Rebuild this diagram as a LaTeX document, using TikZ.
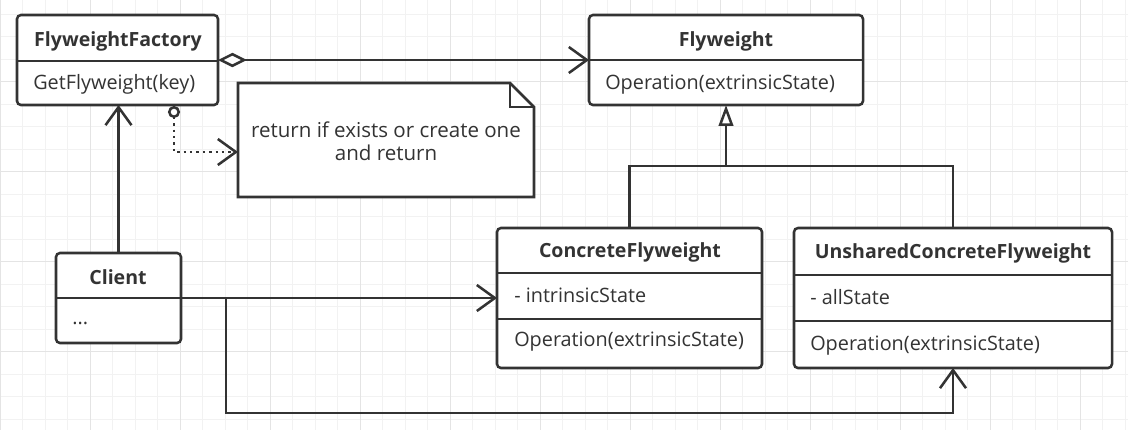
\documentclass[tikz,border=0pt]{standalone}
\usepackage{fontspec}
\setmainfont{Open Sans}
\usetikzlibrary{arrows.meta}
\definecolor{inkgray}{HTML}{333333}
\definecolor{gridminor}{HTML}{F2F2F2}
\definecolor{gridmajor}{HTML}{E4E4E4}
\newcommand{\pxlen}{0.025cm}

\begin{document}
\begin{tikzpicture}[
  x=0.025cm, y=-0.025cm,
  font=\fontsize{14.1pt}{16.3pt}\selectfont,
  every node/.style={text=inkgray},
  classbox/.style={draw=inkgray,line width=1.8pt,rounded corners=0.1cm,fill=white,
    inner sep=0pt,outer sep=0pt,anchor=north west},
  classname/.style={font=\fontsize{13.9pt}{16.3pt}\selectfont\bfseries,inner sep=0pt},
  member/.style={anchor=west,inner sep=0pt,text height=0.8em,text depth=0.25em},
  sepline/.style={draw=inkgray,line width=1.8pt},
  conn/.style={draw=inkgray,line width=1.8pt},
  openhead/.style={-{Straight Barb[length=0.45cm,width=0.65cm]}},
  minorline/.style={draw=gridminor,line width=0.7pt},
  majorline/.style={draw=gridmajor,line width=0.7pt}
]

\useasboundingbox[fill=white] (0,0) rectangle (1128,430);

% background grid
\foreach \gx in {0,22.5,...,1128} \draw[minorline] (\gx,0) -- (\gx,430);
\foreach \gy in {14.2,36.7,...,430} \draw[minorline] (0,\gy) -- (1128,\gy);
\foreach \gx in {0,90,...,1128} \draw[majorline] (\gx,0) -- (\gx,430);
\foreach \gy in {81.7,171.7,...,430} \draw[majorline] (0,\gy) -- (1128,\gy);

% classes
\node[classbox,minimum width=201*\pxlen,minimum height=90*\pxlen] (factory) at (17,15) {};
\node[classname] (factoryname) at (118,41.5) {FlyweightFactory};
\draw[sepline] (17,61) -- (218,61);
\node[member] (factoryop) at (33,86) {GetFlyweight(key)};

\node[classbox,minimum width=274*\pxlen,minimum height=90*\pxlen] (flyweight) at (589,15) {};
\node[classname] (flyweightname) at (726,41.5) {Flyweight};
\draw[sepline] (589,60) -- (863,60);
\node[member] (flyweightop) at (605,86) {Operation(extrinsicState)};

\node[classbox,minimum width=125*\pxlen,minimum height=90*\pxlen] (client) at (56,253) {};
\node[classname] (clientname) at (118,277.5) {Client};
\draw[sepline] (56,298) -- (181,298);
\node[member] (clientbody) at (72,321) {...};

\node[classbox,minimum width=265*\pxlen,minimum height=140*\pxlen] (concrete) at (497,228) {};
\node[classname] (concretename) at (630,252.5) {ConcreteFlyweight};
\draw[sepline] (497,273) -- (762,273);
\node[member] (concreteattr) at (514,298.5) {- intrinsicState};
\draw[sepline] (497,319) -- (762,319);
\node[member] (concreteop) at (514,343) {Operation(extrinsicState)};

\node[classbox,minimum width=318*\pxlen,minimum height=140*\pxlen] (unshared) at (794,228) {};
\node[classname] (unsharedname) at (953,253.5) {UnsharedConcreteFlyweight};
\draw[sepline] (794,275) -- (1112,275);
\node[member] (unsharedattr) at (810,300.5) {- allState};
\draw[sepline] (794,321) -- (1112,321);
\node[member] (unsharedop) at (810,347) {Operation(extrinsicState)};

% note
\node[inner sep=0pt,outer sep=0pt,minimum width=296*\pxlen,minimum height=114*\pxlen,
  anchor=north west] (note) at (238,83) {};
\draw[conn,fill=white] (note.north west) -- ([xshift=-0.6cm]note.north east)
  -- ([yshift=-0.6cm]note.north east) -- (note.south east) -- (note.south west) -- cycle;
\draw[conn] ([xshift=-0.6cm]note.north east) |- ([yshift=-0.6cm]note.north east);
\node[align=center,inner sep=0pt,font=\fontsize{14.6pt}{16.3pt}\selectfont] (notetext)
  at ([yshift=-0.03cm]note.center) {return if exists or create one\\and return};

% connectors
\coordinate (genbar) at (726,166);
\coordinate (branch) at (226,298);
\coordinate (lowrun) at (226,413);
\coordinate (dotstart) at (174,106);
\coordinate (notein) at ([yshift=-0.3cm]note.west);

\draw[conn,{Diamond[fill=white,length=0.72cm,width=0.36cm]}-{Straight Barb[length=0.45cm,width=0.65cm]}]
  (factory.east) -- (flyweight.west);
\draw[conn] (concrete.north) |- (genbar) -| (unshared.north);
\draw[conn,-{Triangle[fill=white,length=0.52cm,width=0.36cm]}] (genbar) -- (flyweight.south);
\draw[conn,openhead] (client.north) -- (client.north |- factory.south);
\draw[conn,openhead] (client.east) -- (concrete.west);
\draw[conn,openhead] (branch) -- (lowrun) -| (unshared.south);
\draw[conn,dash pattern=on 0.06cm off 0.1cm,
  {Circle[open,length=0.3cm]}-{Straight Barb[length=0.45cm,width=0.65cm]}]
  (dotstart) |- (notein);

\end{tikzpicture}
\end{document}
